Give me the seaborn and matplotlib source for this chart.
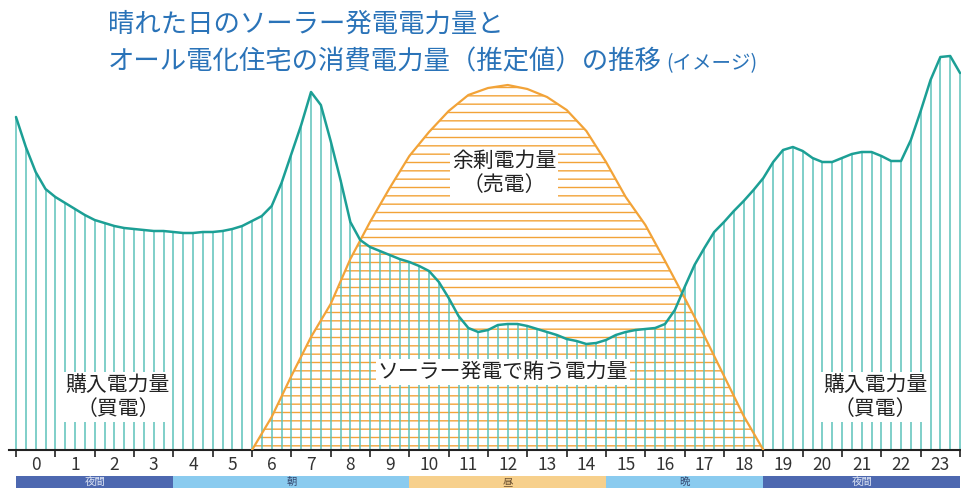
import numpy as np
import matplotlib
matplotlib.use("Agg")
import matplotlib.pyplot as plt
import seaborn as sns

# consumption (all-electric home), read every 15 minutes from 0:00 to 24:00
consumption = [3.33, 3.03, 2.78, 2.61, 2.53, 2.47, 2.41, 2.35, 2.30, 2.27,
               2.24, 2.22, 2.21, 2.20, 2.19, 2.19, 2.18, 2.17, 2.17, 2.18,
               2.18, 2.19, 2.21, 2.24, 2.29, 2.34, 2.44, 2.67, 2.96, 3.25,
               3.58, 3.45, 3.09, 2.70, 2.28, 2.10, 2.03, 1.99, 1.95, 1.91,
               1.88, 1.84, 1.79, 1.68, 1.52, 1.34, 1.22, 1.18, 1.20, 1.25,
               1.26, 1.26, 1.24, 1.21, 1.18, 1.15, 1.11, 1.09, 1.06, 1.07,
               1.10, 1.15, 1.18, 1.20, 1.21, 1.22, 1.26, 1.40, 1.63, 1.85,
               2.02, 2.18, 2.28, 2.39, 2.49, 2.60, 2.72, 2.88, 3.00, 3.03,
               2.99, 2.92, 2.88, 2.88, 2.92, 2.96, 2.98, 2.98, 2.94, 2.89,
               2.89, 3.10, 3.39, 3.70, 3.93, 3.94, 3.77]
consumption_hours = np.arange(len(consumption)) * 0.25

# solar generation on a sunny day, every 30 minutes from 6:00 to 19:00
solar = [0.00, 0.33, 0.74, 1.13, 1.46, 1.91, 2.28, 2.62, 2.94, 3.18,
         3.39, 3.55, 3.62, 3.65, 3.61, 3.53, 3.40, 3.19, 2.88, 2.53,
         2.25, 1.89, 1.52, 1.14, 0.74, 0.34, 0.00]
solar_hours = 6 + np.arange(len(solar)) * 0.5

hour_labels = [str(h) for h in range(24)]

bands = ["夜間", "朝", "昼", "晩", "夜間"]
band_start = [0, 4, 10, 15, 19]
band_end = [4, 10, 15, 19, 24]
band_colors = ["#4d68b0", "#8acbef", "#f7d08c", "#8acbef", "#4d68b0"]
band_text_colors = ["#dfe6f5", "#33466e", "#6b5030", "#33466e", "#dfe6f5"]

sns.set_theme(style="white")
plt.rcParams["font.family"] = ["Noto Sans CJK JP", "DejaVu Sans"]
plt.rcParams["hatch.linewidth"] = 1.0

TEAL_LINE = "#5cc2bb"
TEAL = "#1c9f95"
ORANGE = "#f2a338"
BLUE = "#2a73b8"

fig = plt.figure(figsize=(9.62, 4.88), dpi=100)
ax = fig.add_axes([9 / 962, 38 / 488, 953 / 962, 450 / 488])
ax.set_xlim(-0.178, 24.05)
ax.set_ylim(0, 4.5)

# solar area: horizontal hatching
ax.fill_between(solar_hours, 0, solar, facecolor="none", edgecolor=ORANGE,
                hatch="--", linewidth=0, zorder=1)

# consumption: vertical lines every 15 min
ax.vlines(consumption_hours, 0, consumption, color=TEAL_LINE, linewidth=1.1, zorder=2)

sns.lineplot(x=solar_hours, y=solar, color=ORANGE, linewidth=1.6, ax=ax, zorder=3)
sns.lineplot(x=consumption_hours, y=consumption, color=TEAL, linewidth=1.8, ax=ax, zorder=4)

# axis styling
for side in ["top", "left", "right"]:
    ax.spines[side].set_visible(False)
ax.spines["bottom"].set_color("#222222")
ax.spines["bottom"].set_linewidth(1.5)
ax.set_yticks([])
ax.set_xticks(range(25))
ax.set_xticklabels([])
ax.set_xticks(np.arange(24) + 0.5, minor=True)
ax.set_xticklabels(hour_labels, minor=True, fontsize=12.5, color="#333333")
ax.tick_params(axis="x", which="major", direction="out", length=5, width=1.3,
               color="#333333", bottom=True)
ax.tick_params(axis="x", which="minor", length=0, pad=4, bottom=True)
ax.set_xlabel("")
ax.set_ylabel("")

# area labels
box = dict(facecolor="white", edgecolor="none", pad=1.5)
ax.text(12.41, 2.77, "余剰電力量\n（売電）", ha="center", va="center",
        fontsize=15, color="#222222", linespacing=1.15, bbox=box, zorder=5)
ax.text(12.38, 0.78, "ソーラー発電で賄う電力量", ha="center", va="center",
        fontsize=15, color="#222222", bbox=box, zorder=5)
ax.text(2.59, 0.53, "購入電力量\n（買電）", ha="center", va="center",
        fontsize=15, color="#222222", linespacing=1.15, bbox=box, zorder=5)
ax.text(21.84, 0.53, "購入電力量\n（買電）", ha="center", va="center",
        fontsize=15, color="#222222", linespacing=1.15, bbox=box, zorder=5)

# time-of-day band
ax_band = fig.add_axes([9 / 962, 0, 953 / 962, 12 / 488])
ax_band.set_xlim(-0.178, 24.05)
ax_band.set_ylim(-0.5, 0.5)
ax_band.barh(0, np.array(band_end) - np.array(band_start), left=band_start,
             height=1, color=band_colors, edgecolor="none")
for name, s, e, tc in zip(bands, band_start, band_end, band_text_colors):
    ax_band.text((s + e) / 2, 0.0, name, ha="center", va="center",
                 fontsize=7.5, color=tc)
ax_band.axis("off")

# title
fig.text(108 / 962, 1 - 24 / 488, "晴れた日のソーラー発電電力量と",
         fontsize=19, color=BLUE, va="center", ha="left")
t2 = fig.text(108 / 962, 1 - 62 / 488, "オール電化住宅の消費電力量（推定値）の推移",
              fontsize=19, color=BLUE, va="center", ha="left")
ax.annotate("(イメージ)", xy=(1, 0.45), xycoords=t2, xytext=(3, 0),
            textcoords="offset points", fontsize=14, color=BLUE,
            va="center", ha="left", annotation_clip=False)

fig.savefig("out.png", dpi=100)
